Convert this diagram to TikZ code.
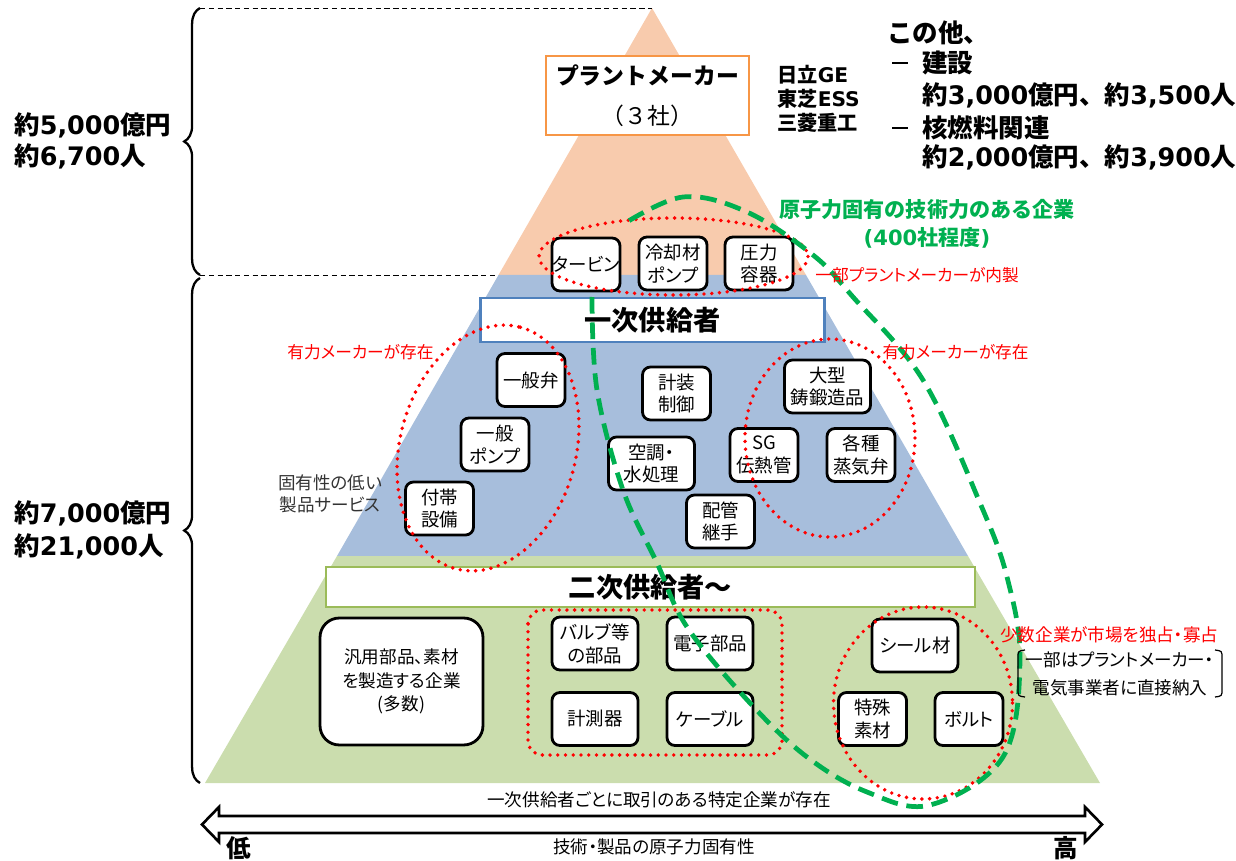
\documentclass[tikz,border=0pt]{standalone}
\usepackage{fontspec}
\setmainfont{Noto Sans CJK JP}
\newfontfamily\propfont{Noto Sans CJK JP}[RawFeature=+palt]
\newfontfamily\numfont{DejaVu Sans}
\newcommand{\nm}[1]{{\numfont #1}}
\usepackage{tikz}
\usetikzlibrary{decorations.pathreplacing}
\definecolor{peak}{HTML}{F8CBAD}
\definecolor{tierone}{HTML}{A7BEDC}
\definecolor{tiertwo}{HTML}{CBDDAE}
\definecolor{peakline}{HTML}{F79646}
\definecolor{oneline}{HTML}{4F81BD}
\definecolor{twoline}{HTML}{9BBB59}
\definecolor{core}{HTML}{00B050}

\begin{document}
\begin{tikzpicture}[x=0.02cm, y=-0.02cm,
    item/.style={draw, fill=white, line width=1.6pt, rounded corners=4.5pt, align=center,
      inner sep=0pt, minimum width=1.36cm, minimum height=1.06cm,
      font=\propfont\fontsize{10.5}{13}\selectfont},
    wide/.style={item, minimum width=1.72cm},
    band/.style={draw, fill=white, line width=1.4pt, align=center, inner sep=0pt},
    redring/.style={red, line width=2.2pt, dash pattern=on 0pt off 4.4pt, line cap=round},
    greenring/.style={core, line width=2.7pt, dash pattern=on 9.5pt off 5pt},
    note/.style={text=red, inner sep=0pt, font=\propfont\fontsize{9.5}{12}\selectfont},
    side/.style={anchor=west, inner sep=0pt, align=left, font=\bfseries\fontsize{14.5}{18}\selectfont}]
      \useasboundingbox (0,0) rectangle (1236,861);

      % pyramid
      \coordinate (apex) at (652,8);
      \coordinate (o1) at (498.5,275);
      \coordinate (o2) at (806,275);
      \coordinate (b1) at (337,556);
      \coordinate (b2) at (968,556);
      \coordinate (g1) at (205,783);
      \coordinate (g2) at (1100,783);
      \fill[peak] (apex) -- (o2) -- (o1) -- cycle;
      \fill[tierone] (o1) -- (o2) -- (b2) -- (b1) -- cycle;
      \fill[tiertwo] (b1) -- (b2) -- (g2) -- (g1) -- cycle;

      % braces
      \coordinate (t0) at (200,8);
      \coordinate (t1) at (200,275);
      \coordinate (t2) at (200,278);
      \coordinate (t3) at (200,783);
      \draw[dash pattern=on 3pt off 2pt] (t0) -- (apex);
      \draw[dash pattern=on 3pt off 2pt] (t1) -- (o1);
      \draw[line width=1.3pt, decorate, decoration={brace, amplitude=9pt}] (t1) -- (t0);
      \draw[line width=1.3pt, decorate, decoration={brace, amplitude=9pt}] (t3) -- (t2);

      \path
      (14,141) node[side] (sum1) {約\nm{5,000}億円\\約\nm{6,700}人}
      (14,530) node[side, font=\bfseries\fontsize{14.5}{19}\selectfont] (sum2) {約\nm{7,000}億円\\約\nm{21,000}人}
      ;

      % tiers
      \path
      (647.5,95.5) node[band, draw=peakline, minimum width=4.06cm, minimum height=1.58cm,
        font=\fontsize{13}{22.7}\selectfont] (maker) {\textbf{プラントメーカー}\\（３社）}
      (652.5,320) node[band, draw=oneline, minimum width=6.88cm, minimum height=0.88cm,
        font=\bfseries\fontsize{15.5}{18}\selectfont] (tier1) {一次供給者}
      (650.5,587) node[band, draw=twoline, minimum width=12.98cm, minimum height=0.8cm,
        font=\bfseries\fontsize{15.5}{18}\selectfont] (tier2) {二次供給者〜}
      ;

      \path
      (586,264.5) node[item] (turbine) {タービン}
      (673,263.5) node[item] (coolpump) {冷却材\\ポンプ}
      (759,263.5) node[item] (vessel) {圧力\\容器}
      (531,380) node[item] (valve) {一般弁}
      (495,444.5) node[item] (pump) {一般\\ポンプ}
      (439.5,508.5) node[item] (aux) {付帯\\設備}
      (676.5,393.5) node[item] (instr) {計装\\制御}
      (651.5,463.5) node[wide] (hvac) {空調・\\水処理}
      (720.5,521.5) node[item] (piping) {配管\\継手}
      (827.5,386.5) node[wide] (forging) {大型\\鋳鍛造品}
      (764,455) node[item] (sg) {SG\\伝熱管}
      (861,455) node[item] (steamvalve) {各種\\蒸気弁}
      ;

      \path
      (401.5,681.5) node[item, minimum width=3.26cm, minimum height=2.54cm, rounded corners=11pt,
        font=\propfont\fontsize{10}{13.3}\selectfont] (general) {汎用部品、素材\\を製造する企業\\(多数)}
      (595,643.5) node[wide] (valveparts) {バルブ等\\の部品}
      (595,719) node[wide] (meter) {計測器}
      (710,643.5) node[wide] (elec) {電子部品}
      (710,719) node[wide] (cable) {ケーブル}
      (915,645.5) node[wide] (seal) {シール材}
      (872.5,719) node[item] (special) {特殊\\素材}
      (969,719) node[item] (bolt) {ボルト}
      ;

      % rings
      \draw[redring] (673.5,256.5) ellipse [x radius=134.5, y radius=38.5];
      \draw[redring, rotate around={75:(488,448)}] (488,448) ellipse [x radius=125, y radius=88];
      \draw[redring] (830,438) ellipse [x radius=85, y radius=99];
      \draw[redring] (923,703) ellipse [x radius=89.5, y radius=96];
      \draw[redring, rounded corners=8pt] (528,610) rectangle (782,755);
      \draw[greenring] plot[smooth, tension=0.6] coordinates {(592,297) (597,390) (623,490)
        (657,563) (687,627) (750,703) (807,757) (867,792) (930,805) (1003,757) (1020,660)
        (1007,577) (980,503) (923,380) (853,297) (813,255) (747,212) (683,197) (622,225)};

      % axis
      \draw[line width=1.5pt, fill=white] (219,816) -- (1085,816) -- (1085,807) -- (1102,824.5)
        -- (1085,842) -- (1085,833) -- (219,833) -- (219,842) -- (202,824.5) -- (219,807) -- cycle;

      \path
      (777,99) node[side, font=\bfseries\fontsize{11.5}{13.6}\selectfont] (vendors) {日立\nm{GE}\\東芝\nm{ESS}\\三菱重工}
      (887,33) node[side] (other) {この他、}
      (900,63) node[inner sep=0pt] (dash1) {\rule{9pt}{1.7pt}}
      (922,63) node[side] (build) {建設}
      (922,95) node[side] (buildsum) {約\nm{3,000}億円、約\nm{3,500}人}
      (900,128) node[inner sep=0pt] (dash2) {\rule{9pt}{1.7pt}}
      (922,128) node[side] (fuel) {核燃料関連}
      (922,157) node[side] (fuelsum) {約\nm{2,000}億円、約\nm{3,900}人}
      (927,224) node[text=core, align=center, inner sep=0pt,
        font=\bfseries\fontsize{12}{16}\selectfont] (corelabel) {原子力固有の技術力のある企業\\\nm{(400}社程度\nm{)}}
      ;

      \path
      (815,275) node[note, anchor=west] (inhouse) {一部プラントメーカーが内製}
      (360.5,352) node[note] (strongl) {有力メーカーが存在}
      (955.5,352) node[note] (strongr) {有力メーカーが存在}
      (1000,635) node[note, anchor=west, font=\propfont\fontsize{10}{12}\selectfont] (few) {少数企業が市場を独占・寡占}
      (330,494) node[align=center, inner sep=0pt, text=black!80,
        font=\propfont\fontsize{10}{12.5}\selectfont] (lowspec) {固有性の低い\\製品サービス}
      (1120,674) node[align=center, inner sep=0pt,
        font=\propfont\fontsize{10}{15.9}\selectfont] (direct) {一部はプラントメーカー・\\電気事業者に直接納入}
      (659,800) node[inner sep=0pt, font=\propfont\fontsize{10}{12}\selectfont] (specific) {一次供給者ごとに取引のある特定企業が存在}
      (654,847) node[inner sep=0pt, font=\propfont\fontsize{10}{12}\selectfont] (axis) {技術・製品の原子力固有性}
      (239,848) node[inner sep=0pt, font=\bfseries\fontsize{14}{16}\selectfont] (low) {低}
      (1066,848) node[inner sep=0pt, font=\bfseries\fontsize{14}{16}\selectfont] (high) {高}
      ;

      \draw[line width=0.7pt] (1025,650) .. controls (1018,651) .. (1018,658) -- (1018,689)
        .. controls (1018,696) .. (1025,697);
      \draw[line width=0.7pt] (1215,650) .. controls (1222,651) .. (1222,658) -- (1222,689)
        .. controls (1222,696) .. (1215,697);
    \end{tikzpicture}
\end{document}
